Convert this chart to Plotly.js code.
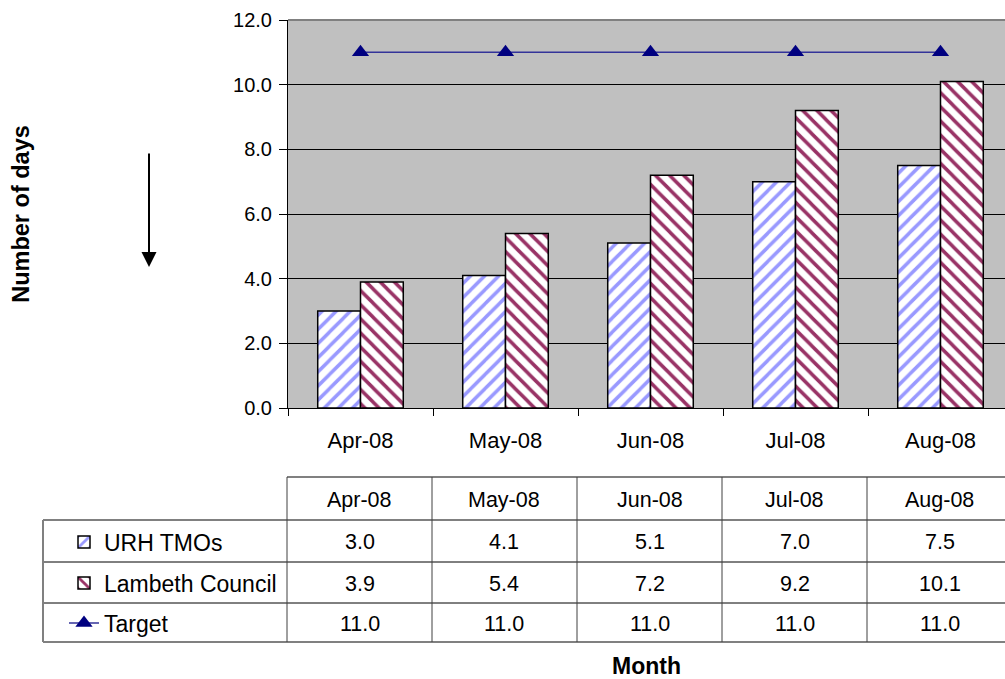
<!DOCTYPE html>
<html>
<head>
<meta charset="utf-8">
<script src="https://cdn.plot.ly/plotly-3.0.1.min.js"></script>
<style>html,body{margin:0;padding:0;background:#fff;}#chart{width:1005px;height:679px;}</style>
</head>
<body>
<div id="chart"></div>
<script>
// ---- data ----
var months = ["Apr-08", "May-08", "Jun-08", "Jul-08", "Aug-08"];
var urhTMOs = [3.0, 4.1, 5.1, 7.0, 7.5];
var lambethCouncil = [3.9, 5.4, 7.2, 9.2, 10.1];
var target = [11.0, 11.0, 11.0, 11.0, 11.0];
var seriesNames = ["URH TMOs", "Lambeth Council", "Target"];
var yTickVals = [0, 2, 4, 6, 8, 10, 12];

// ---- layout helpers (pixel -> paper) ----
var W = 1005, H = 679;
function PX(x) { return x / W; }
function PY(y) { return 1 - y / H; }
var FONT = "Arial, 'Liberation Sans', sans-serif";

var traces = [
  {
    type: "bar", name: seriesNames[0], x: months, y: urhTMOs,
    marker: {
      color: "#ffffff",
      line: {color: "#000000", width: 1.5},
      pattern: {shape: "/", fgcolor: "#9999ff", bgcolor: "#ffffff", size: 10, solidity: 0.35}
    },
    legend: "legend", hoverinfo: "y"
  },
  {
    type: "bar", name: seriesNames[1], x: months, y: lambethCouncil,
    marker: {
      color: "#ffffff",
      line: {color: "#000000", width: 1.5},
      pattern: {shape: "\\", fgcolor: "#993366", bgcolor: "#ffffff", size: 10, solidity: 0.35}
    },
    legend: "legend2", hoverinfo: "y"
  },
  {
    type: "scatter", mode: "lines+markers", name: seriesNames[2], x: months, y: target,
    line: {color: "#333399", width: 1.5},
    marker: {symbol: "triangle-up", size: 15, color: "#000080"},
    legend: "legend3", hoverinfo: "y"
  }
];

// ---- table (shapes + annotations) ----
var shapes = [];
var annotations = [];
var colX = [287, 432, 577, 722, 867, 1012];
var rowY = [477, 520, 562, 603, 642];
var tableLeft = 43;
function hline(x0, x1, y, c, w) {
  shapes.push({type: "line", xref: "paper", yref: "paper", x0: PX(x0), x1: PX(x1), y0: PY(y), y1: PY(y), line: {color: c, width: w}});
}
function vline(x, y0, y1, c, w) {
  shapes.push({type: "line", xref: "paper", yref: "paper", x0: PX(x), x1: PX(x), y0: PY(y0), y1: PY(y1), line: {color: c, width: w}});
}
hline(colX[0], W, rowY[0], "#808080", 2);
hline(tableLeft, W, rowY[1], "#808080", 2);
hline(tableLeft, W, rowY[2], "#000000", 1);
hline(tableLeft, W, rowY[3], "#000000", 1);
hline(tableLeft, W, rowY[4], "#808080", 2);
vline(tableLeft, rowY[1], rowY[4], "#808080", 2);
for (var i = 0; i < 5; i++) {
  vline(colX[i], rowY[0], rowY[4], "#404040", 1);
}
// top border of plot area
hline(288, W, 20, "#808080", 2);

var rows = [months, urhTMOs, lambethCouncil, target];
for (var r = 0; r < rows.length; r++) {
  for (var c = 0; c < months.length; c++) {
    var v = rows[r][c];
    annotations.push({
      xref: "paper", yref: "paper",
      x: PX((colX[c] + colX[c + 1]) / 2), y: PY((rowY[r] + rowY[r + 1]) / 2 + 1),
      text: (typeof v === "number") ? v.toFixed(1) : v,
      showarrow: false, xanchor: "center", yanchor: "middle",
      font: {family: FONT, size: 21.5, color: "#000000"}
    });
  }
}
// arrow next to y-axis title
annotations.push({
  xref: "paper", yref: "paper", x: PX(149), y: PY(267), ax: 0, ay: -115,
  text: "", showarrow: true, arrowhead: 2, arrowsize: 1.5, arrowwidth: 2, arrowcolor: "#000000"
});

function legendAt(y) {
  return {
    x: PX(64), y: PY(y), xanchor: "left", yanchor: "middle",
    bgcolor: "rgba(0,0,0,0)", borderwidth: 0,
    font: {family: FONT, size: 23, color: "#000000"}
  };
}

var layout = {
  width: W, height: H,
  margin: {l: 0, r: 0, t: 0, b: 0, pad: 0},
  paper_bgcolor: "#ffffff",
  plot_bgcolor: "#c0c0c0",
  font: {family: FONT, color: "#000000"},
  barmode: "group", bargap: 0.41, bargroupgap: 0,
  showlegend: true,
  legend: legendAt(542),
  legend2: legendAt(583),
  legend3: legendAt(623),
  xaxis: {
    domain: [288 / W, 1], range: [-0.5, -0.5 + 717 / 145],
    type: "category", automargin: false,
    showline: true, linecolor: "#000000", linewidth: 1,
    ticks: "outside", tickson: "boundaries", ticklen: 7, tickcolor: "#000000",
    tickfont: {family: FONT, size: 22, color: "#000000"},
    ticklabelstandoff: 13,
    showgrid: false, zeroline: false,
    title: {text: "<b>Month</b>", font: {family: FONT, size: 23, color: "#000000"}, standoff: 205}
  },
  yaxis: {
    domain: [1 - 408 / H, 1 - 20 / H], range: [0, 12],
    automargin: false,
    tickvals: yTickVals, tickformat: ".1f",
    showline: true, linecolor: "#000000", linewidth: 1,
    ticks: "outside", ticklen: 8, tickcolor: "#000000",
    tickfont: {family: FONT, size: 20, color: "#000000"},
    ticklabelstandoff: 3,
    showgrid: true, gridcolor: "#000000", gridwidth: 1,
    zeroline: false,
    title: {text: "<b>Number of days</b>", font: {family: FONT, size: 23.5, color: "#000000"}, standoff: 196}
  },
  shapes: shapes,
  annotations: annotations
};

Plotly.newPlot("chart", traces, layout, {displayModeBar: false, staticPlot: true});
</script>
</body>
</html>
